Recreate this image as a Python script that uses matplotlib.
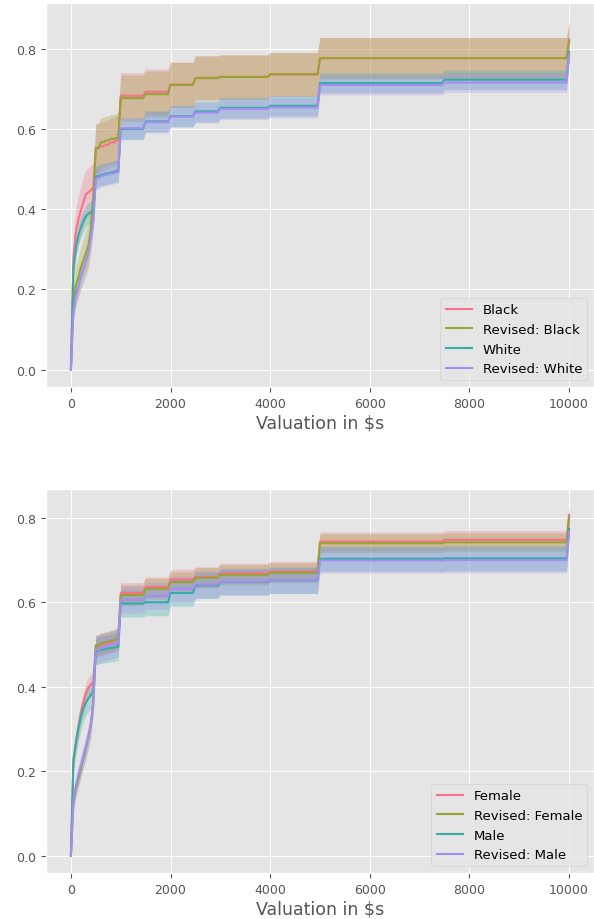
import numpy as np
import matplotlib.pyplot as plt
import seaborn as sns

plt.style.use('ggplot')

# valuation thresholds in dollars
valuations = [0, 50, 100, 150, 200, 250, 300, 350, 400, 450, 500,
              600, 700, 800, 900, 1000, 1500, 2000, 2500, 3000, 4000, 5000, 7500, 10000]

# share of respondents at or below each valuation, by race
black = [0.0, 0.28, 0.345, 0.375, 0.398, 0.418, 0.438, 0.443, 0.448, 0.455, 0.553,
         0.558, 0.562, 0.567, 0.572, 0.684, 0.694, 0.712, 0.729, 0.731, 0.737, 0.778, 0.778, 0.825]
black_rev = [0.0, 0.17, 0.21, 0.23, 0.255, 0.272, 0.29, 0.31, 0.35, 0.43, 0.553,
             0.568, 0.572, 0.576, 0.578, 0.678, 0.688, 0.711, 0.728, 0.731, 0.738, 0.778, 0.778, 0.82]
white = [0.0, 0.25, 0.305, 0.335, 0.355, 0.37, 0.383, 0.389, 0.393, 0.397, 0.483,
         0.487, 0.49, 0.493, 0.496, 0.601, 0.620, 0.633, 0.645, 0.654, 0.659, 0.716, 0.724, 0.793]
white_rev = [0.0, 0.145, 0.185, 0.205, 0.232, 0.25, 0.27, 0.29, 0.33, 0.37, 0.478,
             0.484, 0.487, 0.49, 0.493, 0.603, 0.618, 0.632, 0.642, 0.651, 0.655, 0.711, 0.717, 0.788]

# same, by gender
female = [0.0, 0.225, 0.268, 0.305, 0.338, 0.362, 0.385, 0.398, 0.405, 0.41, 0.496,
          0.5, 0.503, 0.506, 0.51, 0.622, 0.636, 0.654, 0.660, 0.669, 0.673, 0.744, 0.748, 0.807]
female_rev = [0.0, 0.125, 0.158, 0.182, 0.205, 0.23, 0.253, 0.28, 0.31, 0.36, 0.498,
              0.503, 0.506, 0.509, 0.513, 0.617, 0.632, 0.648, 0.658, 0.665, 0.670, 0.740, 0.742, 0.80]
male = [0.0, 0.225, 0.268, 0.3, 0.328, 0.348, 0.362, 0.372, 0.38, 0.39, 0.485,
        0.488, 0.49, 0.492, 0.494, 0.597, 0.600, 0.622, 0.640, 0.648, 0.652, 0.703, 0.704, 0.774]
male_rev = [0.0, 0.13, 0.166, 0.19, 0.213, 0.235, 0.258, 0.28, 0.31, 0.37, 0.487,
            0.492, 0.496, 0.5, 0.503, 0.606, 0.615, 0.631, 0.642, 0.649, 0.652, 0.699, 0.700, 0.768]

# group sizes used for the 95% bands
n_black, n_white = 250, 1300
n_female, n_male = 1500, 900

race_labels = ['Black', 'Revised: Black', 'White', 'Revised: White']
gender_labels = ['Female', 'Revised: Female', 'Male', 'Revised: Male']

colors = sns.color_palette('husl', 4)

RAMP = 50  # curve is evaluated on a $50 grid, so each jump takes one grid step


def ramp_steps(x, y):
    # hold each value until one grid step before the next threshold
    xs, ys = [x[0]], [y[0]]
    for i in range(1, len(x)):
        start = max(x[i - 1], x[i] - RAMP)
        if start > x[i - 1]:
            xs.append(start)
            ys.append(y[i - 1])
        xs.append(x[i])
        ys.append(y[i])
    return np.array(xs), np.array(ys)


def draw(ax, series, sizes, labels):
    for y, n, lab, c in zip(series, sizes, labels, colors):
        x, y = ramp_steps(valuations, y)
        ci = 1.96 * np.sqrt(y * (1 - y) / n)
        ax.fill_between(x, y - ci, y + ci, color=c, alpha=0.3, lw=0)
        ax.plot(x, y, color=c, lw=1.5, label=lab)
    ax.set_xlabel('Valuation in $s', fontsize=12.5, labelpad=3)
    ax.set_xticks([0, 2000, 4000, 6000, 8000, 10000])
    ax.tick_params(labelsize=9)
    ax.legend(loc='lower right', fontsize=9.5)


fig = plt.figure(figsize=(5.94, 9.2), dpi=100)
ax1 = fig.add_axes([46 / 594, 1 - 388 / 920, 548 / 594, 384 / 920])
ax2 = fig.add_axes([46 / 594, 1 - 874 / 920, 548 / 594, 384 / 920])

draw(ax1, [black, black_rev, white, white_rev], [n_black, n_black, n_white, n_white], race_labels)
draw(ax2, [female, female_rev, male, male_rev], [n_female, n_female, n_male, n_male], gender_labels)

fig.savefig('out.png', dpi=100)
